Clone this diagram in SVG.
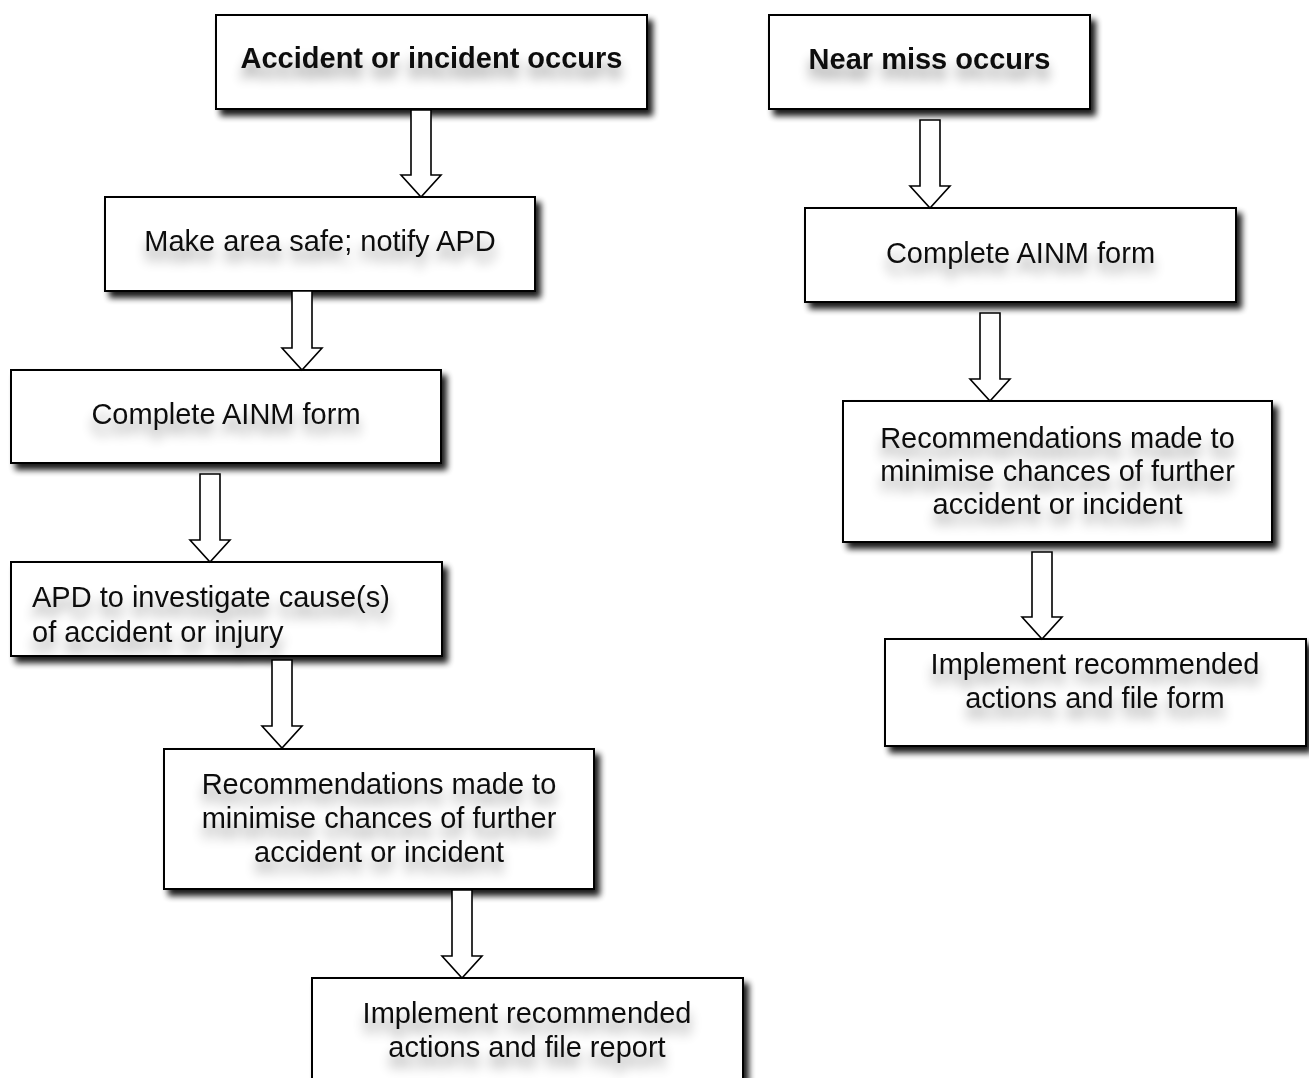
<svg xmlns="http://www.w3.org/2000/svg" width="1309" height="1078" viewBox="0 0 1309 1078">
<defs>
<filter id="boxShadow" x="-5%" y="-10%" width="115%" height="135%">
<feGaussianBlur in="SourceAlpha" stdDeviation="3.2"/>
<feOffset dx="5" dy="6" result="o"/>
<feComponentTransfer in="o" result="s"><feFuncA type="linear" slope="0.9"/></feComponentTransfer>
<feMerge><feMergeNode in="s"/><feMergeNode in="SourceGraphic"/></feMerge>
</filter>
<filter id="txtShadow" x="-10%" y="-50%" width="120%" height="220%">
<feGaussianBlur in="SourceAlpha" stdDeviation="6"/>
<feOffset dx="0" dy="11" result="o"/>
<feComponentTransfer in="o" result="s"><feFuncA type="linear" slope="0.4"/></feComponentTransfer>
<feMerge><feMergeNode in="s"/><feMergeNode in="SourceGraphic"/></feMerge>
</filter>
</defs>
<style>
.box{fill:#fff;stroke:#000;stroke-width:2;filter:url(#boxShadow)}
.t{font-family:"Liberation Sans",Arial,sans-serif;font-size:29px;fill:#111;text-anchor:middle;filter:url(#txtShadow)}
.b{font-weight:bold}
.l{text-anchor:start}
.arr{fill:#fff;stroke:#000;stroke-width:1.6;stroke-linejoin:miter}
</style>
<rect width="1309" height="1078" fill="#fff"/>

<g id="n1"><rect class="box" x="216" y="15" width="431" height="94"/><text class="t b" x="431.5" y="68">Accident or incident occurs</text></g>
<g id="n2"><rect class="box" x="105" y="197" width="430" height="94"/><text class="t" x="320" y="251">Make area safe; notify APD</text></g>
<g id="n3"><rect class="box" x="11" y="370" width="430" height="93"/><text class="t" x="226" y="424">Complete AINM form</text></g>
<g id="n4"><rect class="box" x="11" y="562" width="431" height="94"/><text class="t l" x="32" y="607">APD to investigate cause(s)</text><text class="t l" x="32" y="642">of accident or injury</text></g>
<g id="n5"><rect class="box" x="164" y="749" width="430" height="140"/><text class="t" x="379" y="794">Recommendations made to</text><text class="t" x="379" y="828">minimise chances of further</text><text class="t" x="379" y="862">accident or incident</text></g>
<g id="n6"><rect class="box" x="312" y="978" width="431" height="108"/><text class="t" x="527" y="1023">Implement recommended</text><text class="t" x="527" y="1057">actions and file report</text></g>

<g id="r1"><rect class="box" x="769" y="15" width="321" height="94"/><text class="t b" x="929.5" y="69">Near miss occurs</text></g>
<g id="r2"><rect class="box" x="805" y="208" width="431" height="94"/><text class="t" x="1020.5" y="263">Complete AINM form</text></g>
<g id="r3"><rect class="box" x="843" y="401" width="429" height="141"/><text class="t" x="1057.5" y="448">Recommendations made to</text><text class="t" x="1057.5" y="481">minimise chances of further</text><text class="t" x="1057.5" y="514">accident or incident</text></g>
<g id="r4"><rect class="box" x="885" y="639" width="421" height="107"/><text class="t" x="1095" y="674">Implement recommended</text><text class="t" x="1095" y="708">actions and file form</text></g>

<g id="connectors">
<polygon class="arr" points="411,110 431,110 431,175 441,175 421,197 401,175 411,175"/>
<polygon class="arr" points="292,291 312,291 312,348 322,348 302,370 282,348 292,348"/>
<polygon class="arr" points="200,474 220,474 220,540 230,540 210,562 190,540 200,540"/>
<polygon class="arr" points="272,660 292,660 292,726 302,726 282,748 262,726 272,726"/>
<polygon class="arr" points="452,890 472,890 472,956 482,956 462,978 442,956 452,956"/>
<polygon class="arr" points="920,120 940,120 940,186 950,186 930,208 910,186 920,186"/>
<polygon class="arr" points="980,313 1000,313 1000,379 1010,379 990,401 970,379 980,379"/>
<polygon class="arr" points="1032,552 1052,552 1052,617 1062,617 1042,639 1022,617 1032,617"/>
</g>
</svg>
